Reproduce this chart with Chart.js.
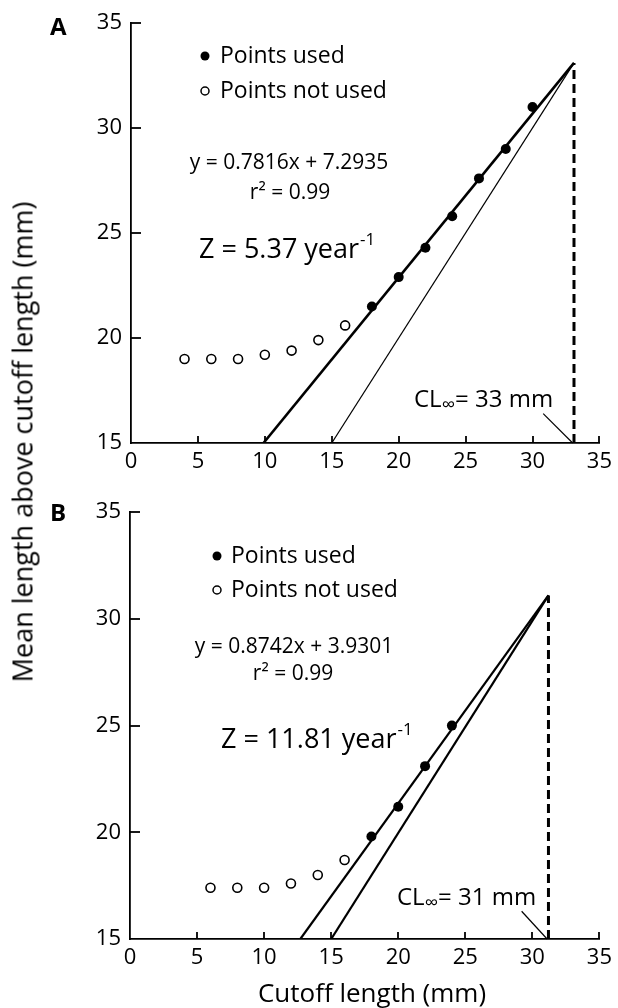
<!DOCTYPE html>
<html>
<head>
<meta charset="utf-8">
<script src="https://cdn.jsdelivr.net/npm/chart.js@4.4.0/dist/chart.umd.min.js"></script>
<style>
  body { margin: 0; background: #fff; font-family: "Open Sans", sans-serif; color: #000; }
  #page { position: relative; width: 618px; height: 1008px; overflow: hidden; }
  .panel { position: absolute; left: 0; width: 618px; }
  #panelA { top: 0; height: 480px; }
  #panelB { top: 490px; height: 518px; }
  #yTitle { position: absolute; left: 22px; top: 442px; transform: translate(-50%, -50%) rotate(-90deg);
            white-space: nowrap; font-size: 27px; line-height: 1; }
  #xTitle { position: absolute; left: 372px; top: 992px; transform: translate(-50%, -50%);
            white-space: nowrap; font-size: 26px; line-height: 1; }
</style>
</head>
<body>
<div id="page">
  <div class="panel" id="panelA"><canvas id="chartA"></canvas></div>
  <div class="panel" id="panelB"><canvas id="chartB"></canvas></div>
  <div id="yTitle">Mean length above cutoff length (mm)</div>
  <div id="xTitle">Cutoff length (mm)</div>
</div>
<script>
// -----------------------------
// Data
// -----------------------------
const xTicks = [0, 5, 10, 15, 20, 25, 30, 35];
const yTicks = [15, 20, 25, 30, 35];

// Panel A
const usedXA = [18, 20, 22, 24, 26, 28, 30];
const usedYA = [21.5, 22.9, 24.3, 25.8, 27.6, 29.0, 31.0];
const notUsedXA = [4, 6, 8, 10, 12, 14, 16];
const notUsedYA = [19.0, 19.0, 19.0, 19.2, 19.4, 19.9, 20.6];
const fitXA = [9.9, 33.1];
const fitYA = [15, 33.1];
const refXA = [15, 33.1];
const refYA = [15, 33.1];
const clInfXA = [33.1, 33.1];
const clInfYA = [15, 33.1];
const leaderXA = [30.8, 33.0];
const leaderYA = [16.4, 15];

// Panel B
const usedXB = [18, 20, 22, 24];
const usedYB = [19.8, 21.2, 23.1, 25.0];
const notUsedXB = [6, 8, 10, 12, 14, 16];
const notUsedYB = [17.4, 17.4, 17.4, 17.6, 18.0, 18.7];
const fitXB = [12.7, 31.2];
const fitYB = [15, 31.1];
const refXB = [15, 31.2];
const refYB = [15, 31.1];
const clInfXB = [31.2, 31.2];
const clInfYB = [15, 31.1];
const leaderXB = [29.2, 31.1];
const leaderYB = [16.3, 15];

const pts = (xs, ys) => xs.map((x, i) => ({ x: x, y: ys[i] }));

// -----------------------------
// Annotation text (pixel layout inside each canvas)
// -----------------------------
const labelsA = {
  panel: "A", panelPos: [50, 28],
  legend: [205, 56, 91], legendText: 220,
  eq: "y = 0.7816x + 7.2935", eqPos: [289, 163],
  r2: "r\u00b2 = 0.99", r2Pos: [290, 193],
  z: "Z = 5.37 year", zPos: [199, 250],
  cl: "= 33 mm", clPos: [414, 400],
  leaderX: leaderXA, leaderY: leaderYA
};
const labelsB = {
  panel: "B", panelPos: [50, 24],
  legend: [217, 66, 100], legendText: 231,
  eq: "y = 0.8742x + 3.9301", eqPos: [294, 157],
  r2: "r\u00b2 = 0.99", r2Pos: [293, 184],
  z: "Z = 11.81 year", zPos: [221, 250],
  cl: "= 31 mm", clPos: [397, 408],
  leaderX: leaderXB, leaderY: leaderYB
};

const FONT = "'Open Sans', sans-serif";

// inward tick marks + text annotations
const annotPlugin = {
  id: "annot",
  afterDraw(chart) {
    const ctx = chart.ctx;
    const xs = chart.scales.x, ys = chart.scales.y;
    const L = chart.config.options.plugins.annot;
    ctx.save();
    ctx.strokeStyle = "#000";
    ctx.lineWidth = 1.8;
    // ticks pointing into the plot
    xTicks.forEach(v => {
      if (v === 0) return;
      const px = Math.round(xs.getPixelForValue(v));
      ctx.beginPath(); ctx.moveTo(px, xs.top); ctx.lineTo(px, xs.top - 7); ctx.stroke();
    });
    yTicks.forEach(v => {
      if (v === 15) return;
      const py = Math.round(ys.getPixelForValue(v));
      ctx.beginPath(); ctx.moveTo(ys.right, py); ctx.lineTo(ys.right + 10, py); ctx.stroke();
    });
    // leader line for CL label
    ctx.lineWidth = 1.2;
    ctx.beginPath();
    ctx.moveTo(xs.getPixelForValue(L.leaderX[0]), ys.getPixelForValue(L.leaderY[0]));
    ctx.lineTo(xs.getPixelForValue(L.leaderX[1]), ys.getPixelForValue(L.leaderY[1]));
    ctx.stroke();

    ctx.fillStyle = "#000";
    ctx.textBaseline = "middle";
    // panel letter
    ctx.font = `bold 24px ${FONT}`;
    ctx.textAlign = "left";
    ctx.fillText(L.panel, L.panelPos[0], L.panelPos[1]);
    // legend
    const [lx, ly1, ly2] = L.legend;
    ctx.beginPath(); ctx.arc(lx, ly1, 4.5, 0, Math.PI * 2); ctx.fill();
    ctx.beginPath(); ctx.arc(lx, ly2, 4, 0, Math.PI * 2);
    ctx.fillStyle = "#fff"; ctx.fill(); ctx.lineWidth = 1.5; ctx.stroke();
    ctx.fillStyle = "#000";
    ctx.font = `23px ${FONT}`;
    ctx.fillText("Points used", L.legendText, ly1);
    ctx.fillText("Points not used", L.legendText, ly2);
    // equation
    ctx.font = `21px ${FONT}`;
    ctx.textAlign = "center";
    ctx.fillText(L.eq, L.eqPos[0], L.eqPos[1]);
    ctx.fillText(L.r2, L.r2Pos[0], L.r2Pos[1]);
    // Z = ... year^-1
    ctx.textAlign = "left";
    ctx.font = `27px ${FONT}`;
    ctx.fillText(L.z, L.zPos[0], L.zPos[1]);
    const zw = ctx.measureText(L.z).width;
    ctx.font = `17px ${FONT}`;
    ctx.fillText("-1", L.zPos[0] + zw + 1, L.zPos[1] - 10);
    // CL_inf = .. mm
    ctx.font = `24px ${FONT}`;
    ctx.fillText("CL", L.clPos[0], L.clPos[1]);
    let cx = L.clPos[0] + ctx.measureText("CL").width;
    ctx.font = `19px ${FONT}`;
    ctx.fillText("\u221e", cx, L.clPos[1] + 6);
    cx += ctx.measureText("\u221e").width;
    ctx.font = `24px ${FONT}`;
    ctx.fillText(L.cl, cx, L.clPos[1]);
    ctx.restore();
  }
};

function makePanel(canvasId, w, h, padTop, axisBottom, yAxisWidth, d, labels) {
  const canvas = document.getElementById(canvasId);
  canvas.width = w; canvas.height = h;
  canvas.style.width = w + "px"; canvas.style.height = h + "px";
  return new Chart(canvas.getContext("2d"), {
    type: "scatter",
    data: {
      datasets: [
        { data: d.fit, showLine: true, borderColor: "#000", borderWidth: d.fitWidth, pointRadius: 0 },
        { data: d.ref, showLine: true, borderColor: "#000", borderWidth: d.refWidth, pointRadius: 0 },
        { data: d.cl, showLine: true, borderColor: "#000", borderWidth: 3, borderDash: [9, 5], pointRadius: 0 },
        { data: d.notUsed, pointRadius: 4.5, pointBorderWidth: 1.6, pointBackgroundColor: "#fff", pointBorderColor: "#000" },
        { data: d.used, pointRadius: 5, pointBorderWidth: 0, pointBackgroundColor: "#000", pointBorderColor: "#000" }
      ]
    },
    options: {
      responsive: false,
      animation: false,
      events: [],
      layout: { padding: { top: padTop, right: 13, left: 0, bottom: 0 } },
      plugins: { legend: { display: false }, tooltip: { enabled: false }, annot: labels },
      scales: {
        x: {
          type: "linear", min: 0, max: 35,
          afterBuildTicks: s => { s.ticks = xTicks.map(v => ({ value: v })); },
          afterFit: s => { s.height = h - axisBottom; },
          ticks: { color: "#000", padding: 6, maxRotation: 0, font: { family: FONT, size: 22 } },
          grid: { display: true, drawOnChartArea: false, drawTicks: false },
          border: { display: true, color: "#000", width: 1.8 }
        },
        y: {
          type: "linear", min: 15, max: 35,
          afterBuildTicks: s => { s.ticks = yTicks.map(v => ({ value: v })); },
          afterFit: s => { s.width = yAxisWidth; },
          ticks: { color: "#000", padding: 9, font: { family: FONT, size: 22 } },
          grid: { display: true, drawOnChartArea: false, drawTicks: false },
          border: { display: true, color: "#000", width: 1.8 }
        }
      }
    },
    plugins: [annotPlugin]
  });
}

makePanel("chartA", 618, 480, 23, 443, 131, {
  used: pts(usedXA, usedYA), notUsed: pts(notUsedXA, notUsedYA),
  fit: pts(fitXA, fitYA), ref: pts(refXA, refYA), cl: pts(clInfXA, clInfYA),
  fitWidth: 2.6, refWidth: 1.2
}, labelsA);

makePanel("chartB", 618, 518, 22, 449, 130, {
  used: pts(usedXB, usedYB), notUsed: pts(notUsedXB, notUsedYB),
  fit: pts(fitXB, fitYB), ref: pts(refXB, refYB), cl: pts(clInfXB, clInfYB),
  fitWidth: 2.2, refWidth: 2.2
}, labelsB);
</script>
</body>
</html>
